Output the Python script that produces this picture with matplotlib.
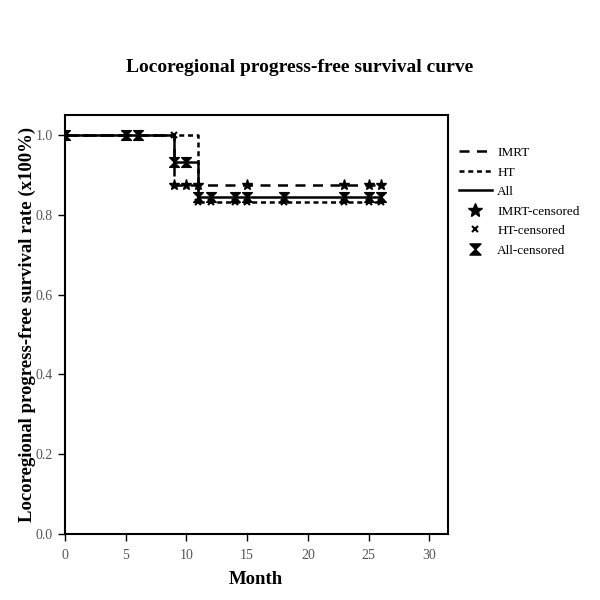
import numpy as np
import matplotlib
matplotlib.use("Agg")
import matplotlib.pyplot as plt
from matplotlib.path import Path
from matplotlib.lines import Line2D

plt.rcParams['font.family'] = ['Liberation Serif', 'DejaVu Serif']

# step curves (time in months, survival fraction)
all_t = [0, 9, 11, 26]
all_s = [1.0, 0.933, 0.845, 0.845]
imrt_t = [0, 9, 26]
imrt_s = [1.0, 0.875, 0.875]
ht_t = [0, 11, 26]
ht_s = [1.0, 0.833, 0.833]

# censoring times
all_cens = [0, 5, 6, 9, 10, 11, 12, 14, 15, 18, 23, 25, 26]
imrt_cens = [9, 10, 11, 15, 23, 25, 26]
ht_cens = [9, 11, 12, 14, 15, 18, 23, 25, 26]


def step_val(t, times, surv):
    idx = np.searchsorted(times, t, side='right') - 1
    return np.array(surv)[idx]


# hourglass marker
hourglass = Path([(-1, 1), (1, 1), (0, 0), (1, -1), (-1, -1), (0, 0), (-1, 1)],
                 [Path.MOVETO, Path.LINETO, Path.LINETO, Path.LINETO,
                  Path.LINETO, Path.LINETO, Path.CLOSEPOLY])

fig = plt.figure(figsize=(6, 6), dpi=100)
ax = fig.add_axes([0.108, 0.11, 0.638, 0.698])

ax.step(imrt_t, imrt_s, where='post', color='black', lw=1.8, dashes=(4, 3))
ax.step(ht_t, ht_s, where='post', color='black', lw=1.8, dashes=(2, 1.5))
ax.step(all_t, all_s, where='post', color='black', lw=1.8)

ax.plot(imrt_cens, step_val(imrt_cens, imrt_t, imrt_s), ls='none',
        marker='*', color='black', ms=8)
ax.plot(ht_cens, step_val(ht_cens, ht_t, ht_s), ls='none',
        marker='x', color='black', ms=5, mew=1.5)
ax.plot(all_cens, step_val(all_cens, all_t, all_s), ls='none',
        marker=hourglass, color='black', ms=7)

ax.set_xlim(0, 31.5)
ax.set_ylim(0, 1.05)
ax.set_xticks([0, 5, 10, 15, 20, 25, 30])
ax.set_yticks([0.0, 0.2, 0.4, 0.6, 0.8, 1.0])
ax.set_yticklabels(['0.0', '0.2', '0.4', '0.6', '0.8', '1.0'])
ax.tick_params(direction='out', length=5, width=1, labelsize=10,
               labelcolor='#555555')
ax.tick_params(axis='x', pad=6)
for sp in ax.spines.values():
    sp.set_linewidth(1.5)

ax.set_xlabel('Month', fontsize=13.5, fontweight='bold', labelpad=6)
ax.set_ylabel('Locoregional progress-free survival rate (x100%)',
              fontsize=13.5, fontweight='bold', labelpad=0)
fig.text(0.5, 0.887, 'Locoregional progress-free survival curve',
         ha='center', va='center', fontsize=14, fontweight='bold')

handles = [
    Line2D([], [], color='black', lw=1.8, dashes=(4, 3)),
    Line2D([], [], color='black', lw=1.8, dashes=(2, 1.5)),
    Line2D([], [], color='black', lw=1.8),
    Line2D([], [], ls='none', marker='*', color='black', ms=10),
    Line2D([], [], ls='none', marker='x', color='black', ms=5, mew=1.5),
    Line2D([], [], ls='none', marker=hourglass, color='black', ms=8),
]
labels = ['IMRT', 'HT', 'All', 'IMRT-censored', 'HT-censored', 'All-censored']
fig.legend(handles, labels, loc='upper left', bbox_to_anchor=(0.745, 0.775),
           frameon=False, fontsize=9.5, handlelength=2.5, labelspacing=0.55,
           handletextpad=0.4)

fig.savefig('out.png', dpi=100)
